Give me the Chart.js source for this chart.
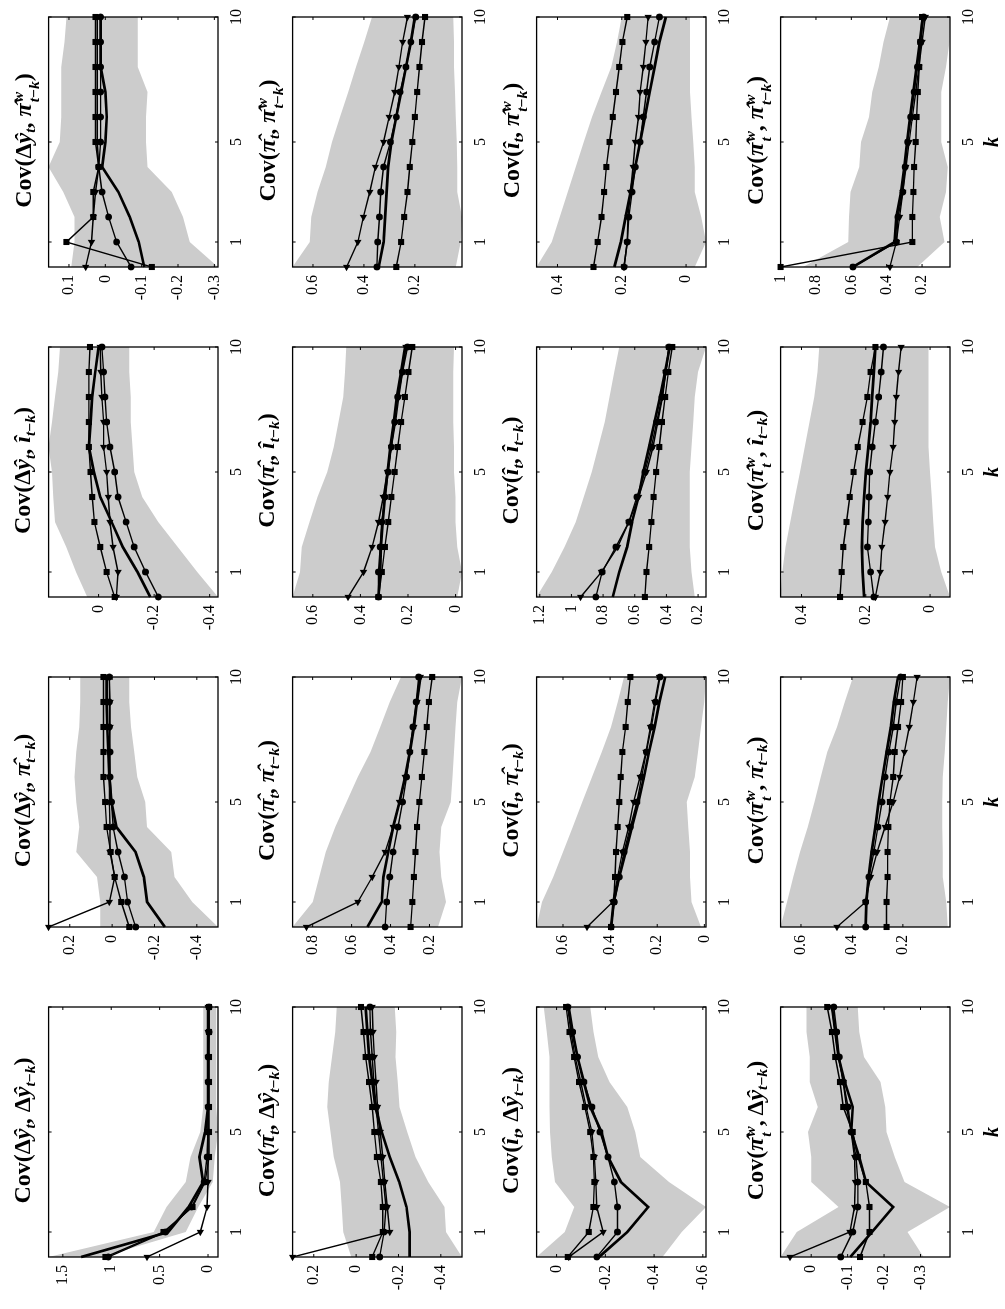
<!DOCTYPE html>
<html>
<head>
<meta charset="utf-8">
<script src="https://cdn.jsdelivr.net/npm/chart.js@4.4.0/dist/chart.umd.min.js"></script>
<style>
  html, body { margin: 0; padding: 0; background: #fff; width: 1005px; height: 1309px; overflow: hidden; }
  #fig {
    position: absolute; left: 0; top: 0; width: 1309px; height: 1005px;
    transform-origin: 0 0; transform: translate(0, 1309px) rotate(-90deg);
    font-family: "Liberation Serif", "DejaVu Serif", serif; color: #000;
  }
  #fig canvas { position: absolute; }
  .ttl { position: absolute; width: 253px; text-align: center; font-size: 24px; font-weight: bold; white-space: nowrap; line-height: 1; z-index: 2; }
  .ttl sub { font-size: 0.65em; vertical-align: -0.3em; line-height: 0; }
  .ss { display: inline-block; vertical-align: -0.55em; font-size: 0.65em; line-height: 1.05; text-align: left; margin-left: 1px; }
  .ss > span { display: block; }
</style>
</head>
<body>
<div id="fig"></div>
<script>
// lags k = 0..10 (horizontal axis of every panel)
const K = [0, 1, 2, 3, 4, 5, 6, 7, 8, 9, 10];
const K_TICKS = [1, 5, 10];

// Cov(dy_t, dy_t-k)
const yy_ticks = [0, 0.5, 1, 1.5];
const yy_hi = [1.647, 0.56, 0.43, 0.23, 0.18, 0.08, 0.05, 0.05, 0.05, 0.05, 0.05];
const yy_lo = [1.1, 0.23, 0.1, -0.05, -0.07, -0.103, -0.085, -0.085, -0.085, -0.085, -0.085];
const yy_solid = [1.31, 0.41, 0.2, 0.05, 0.09, 0.03, 0.0, 0.0, 0.0, 0.0, 0.0];
const yy_circ = [1.03, 0.44, 0.17, 0.04, 0.01, 0.0, 0.0, 0.0, 0.0, -0.01, -0.01];
const yy_sq = [1.06, 0.46, 0.16, 0.03, -0.01, -0.01, -0.01, -0.01, -0.01, -0.01, -0.01];
const yy_tri = [0.63, 0.08, 0.01, 0.0, 0.0, 0.0, 0.0, 0.0, 0.0, 0.0, 0.0];

// Cov(dy_t, pi_t-k)
const yp_ticks = [-0.4, -0.2, 0, 0.2];
const yp_hi = [0.056, 0.056, 0.071, 0.17, 0.155, 0.17, 0.178, 0.17, 0.155, 0.151, 0.151];
const yp_lo = [-0.5, -0.378, -0.294, -0.279, -0.165, -0.157, -0.119, -0.104, -0.089, -0.081, -0.081];
const yp_solid = [-0.249, -0.165, -0.15, -0.111, -0.02, 0.003, 0.013, 0.018, 0.023, 0.026, 0.026];
const yp_circ = [-0.111, -0.073, -0.058, -0.028, -0.005, 0.003, 0.01, 0.01, 0.013, 0.013, 0.013];
const yp_sq = [-0.081, -0.043, -0.012, 0.007, 0.026, 0.033, 0.041, 0.041, 0.041, 0.041, 0.041];
const yp_tri = [0.3, 0.013, -0.012, 0.01, 0.01, 0.013, 0.013, 0.013, 0.01, 0.01, 0.013];

// Cov(dy_t, i_t-k)
const yi_ticks = [-0.4, -0.2, 0];
const yi_hi = [0.041, 0.081, 0.116, 0.157, 0.163, 0.168, 0.18, 0.168, 0.157, 0.145, 0.139];
const yi_lo = [-0.43, -0.355, -0.285, -0.215, -0.157, -0.128, -0.122, -0.116, -0.116, -0.11, -0.11];
const yi_solid = [-0.186, -0.14, -0.087, -0.047, -0.006, 0.017, 0.035, 0.029, 0.023, 0.012, 0.0];
const yi_circ = [-0.215, -0.169, -0.128, -0.099, -0.07, -0.058, -0.041, -0.029, -0.023, -0.018, -0.012];
const yi_sq = [-0.058, -0.029, -0.006, 0.015, 0.023, 0.029, 0.035, 0.035, 0.035, 0.035, 0.031];
const yi_tri = [-0.064, -0.07, -0.052, -0.041, -0.035, -0.029, -0.018, -0.018, -0.012, -0.008, -0.006];

// Cov(dy_t, piw_t-k)
const yw_ticks = [-0.3, -0.2, -0.1, 0, 0.1];
const yw_hi = [0.094, 0.085, 0.085, 0.116, 0.156, 0.125, 0.121, 0.121, 0.121, 0.112, 0.107];
const yw_lo = [-0.31, -0.232, -0.214, -0.183, -0.116, -0.112, -0.112, -0.116, -0.089, -0.089, -0.089];
const yw_solid = [-0.107, -0.092, -0.067, -0.036, 0.009, 0.0, -0.004, 0.0, 0.013, 0.013, 0.013];
const yw_circ = [-0.071, -0.031, -0.009, 0.009, 0.018, 0.013, 0.013, 0.013, 0.013, 0.013, 0.013];
const yw_sq = [-0.128, 0.107, 0.033, 0.033, 0.018, 0.027, 0.027, 0.027, 0.027, 0.027, 0.027];
const yw_tri = [0.054, 0.038, 0.033, 0.027, 0.018, 0.022, 0.022, 0.022, 0.022, 0.022, 0.022];

// Cov(pi_t, dy_t-k)
const py_ticks = [-0.4, -0.2, 0, 0.2];
const py_hi = [0.023, 0.061, 0.068, 0.076, 0.106, 0.121, 0.136, 0.129, 0.114, 0.098, 0.091];
const py_lo = [-0.5, -0.424, -0.417, -0.341, -0.28, -0.242, -0.205, -0.197, -0.186, -0.189, -0.182];
const py_solid = [-0.253, -0.253, -0.238, -0.204, -0.159, -0.121, -0.091, -0.076, -0.061, -0.053, -0.045];
const py_circ = [-0.111, -0.132, -0.141, -0.129, -0.117, -0.106, -0.095, -0.083, -0.076, -0.068, -0.065];
const py_sq = [-0.076, -0.126, -0.126, -0.117, -0.098, -0.086, -0.076, -0.061, -0.045, -0.035, -0.023];
const py_tri = [0.3, -0.159, -0.147, -0.136, -0.126, -0.114, -0.101, -0.094, -0.086, -0.08, -0.076];

// Cov(pi_t, pi_t-k)
const pp_ticks = [0.2, 0.4, 0.6, 0.8];
const pp_hi = [0.903, 0.799, 0.766, 0.733, 0.684, 0.626, 0.568, 0.503, 0.453, 0.404, 0.346];
const pp_lo = [0.156, 0.115, 0.14, 0.148, 0.14, 0.091, 0.082, 0.074, 0.066, 0.058, 0.033];
const pp_solid = [0.519, 0.445, 0.437, 0.412, 0.387, 0.354, 0.325, 0.301, 0.28, 0.264, 0.247];
const pp_circ = [0.428, 0.42, 0.404, 0.387, 0.362, 0.338, 0.318, 0.301, 0.285, 0.268, 0.255];
const pp_sq = [0.297, 0.288, 0.28, 0.272, 0.264, 0.252, 0.239, 0.226, 0.214, 0.203, 0.186];
const pp_tri = [0.832, 0.568, 0.494, 0.428, 0.387, 0.354, 0.325, 0.301, 0.28, 0.264, 0.247];

// Cov(pi_t, i_t-k)
const pi_ticks = [0, 0.2, 0.4, 0.6];
const pi_hi = [0.685, 0.654, 0.647, 0.614, 0.58, 0.539, 0.512, 0.492, 0.472, 0.465, 0.459];
const pi_lo = [-0.007, -0.027, -0.007, 0.0, 0.0, 0.007, 0.007, 0.01, 0.01, 0.01, 0.007];
const pi_solid = [0.324, 0.317, 0.314, 0.306, 0.297, 0.286, 0.274, 0.26, 0.247, 0.229, 0.212];
const pi_circ = [0.324, 0.324, 0.317, 0.31, 0.297, 0.283, 0.27, 0.256, 0.243, 0.223, 0.202];
const pi_sq = [0.324, 0.31, 0.297, 0.283, 0.27, 0.256, 0.243, 0.229, 0.213, 0.198, 0.182];
const pi_tri = [0.452, 0.387, 0.351, 0.324, 0.304, 0.287, 0.27, 0.252, 0.239, 0.223, 0.209];

// Cov(pi_t, piw_t-k)
const pw_ticks = [0.2, 0.4, 0.6];
const pw_hi = [0.68, 0.613, 0.607, 0.582, 0.55, 0.525, 0.494, 0.462, 0.431, 0.399, 0.368];
const pw_lo = [0.04, 0.02, 0.015, 0.034, 0.034, 0.036, 0.04, 0.042, 0.046, 0.046, 0.049];
const pw_solid = [0.342, 0.323, 0.317, 0.311, 0.305, 0.292, 0.273, 0.254, 0.235, 0.216, 0.2];
const pw_circ = [0.349, 0.346, 0.339, 0.334, 0.323, 0.296, 0.273, 0.258, 0.235, 0.216, 0.197];
const pw_sq = [0.273, 0.254, 0.242, 0.229, 0.22, 0.21, 0.2, 0.191, 0.182, 0.172, 0.16];
const pw_tri = [0.468, 0.424, 0.402, 0.377, 0.355, 0.323, 0.301, 0.279, 0.263, 0.248, 0.229];

// Cov(i_t, dy_t-k)
const iy_ticks = [-0.6, -0.4, -0.2, 0];
const iy_hi = [0.082, -0.033, -0.072, 0.007, 0.02, 0.027, 0.029, 0.029, 0.029, 0.04, 0.053];
const iy_lo = [-0.435, -0.514, -0.613, -0.461, -0.343, -0.323, -0.29, -0.217, -0.171, -0.151, -0.138];
const iy_solid = [-0.174, -0.29, -0.376, -0.264, -0.211, -0.184, -0.138, -0.112, -0.086, -0.066, -0.05];
const iy_circ = [-0.165, -0.25, -0.25, -0.237, -0.211, -0.178, -0.145, -0.112, -0.086, -0.066, -0.046];
const iy_sq = [-0.046, -0.132, -0.151, -0.155, -0.151, -0.138, -0.116, -0.092, -0.072, -0.053, -0.039];
const iy_tri = [-0.05, -0.191, -0.165, -0.161, -0.155, -0.145, -0.121, -0.099, -0.076, -0.059, -0.046];

// Cov(i_t, pi_t-k)
const ip_ticks = [0, 0.2, 0.4, 0.6];
const ip_hi = [0.712, 0.689, 0.641, 0.6, 0.559, 0.518, 0.477, 0.436, 0.396, 0.368, 0.341];
const ip_lo = [0.014, 0.055, 0.061, 0.061, 0.068, 0.075, 0.041, 0.027, 0.014, 0.0, -0.007];
const ip_solid = [0.396, 0.385, 0.361, 0.334, 0.307, 0.28, 0.256, 0.235, 0.211, 0.191, 0.166];
const ip_circ = [0.396, 0.382, 0.361, 0.341, 0.314, 0.286, 0.266, 0.246, 0.225, 0.207, 0.188];
const ip_sq = [0.396, 0.385, 0.379, 0.375, 0.368, 0.361, 0.355, 0.348, 0.334, 0.325, 0.314];
const ip_tri = [0.498, 0.389, 0.368, 0.348, 0.321, 0.3, 0.273, 0.248, 0.229, 0.211, 0.191];

// Cov(i_t, i_t-k)
const ii_ticks = [0.2, 0.4, 0.6, 0.8, 1, 1.2];
const ii_hi = [1.22, 1.125, 1.043, 0.972, 0.922, 0.871, 0.83, 0.79, 0.759, 0.729, 0.698];
const ii_lo = [0.221, 0.242, 0.252, 0.252, 0.252, 0.252, 0.242, 0.231, 0.221, 0.201, 0.15];
const ii_solid = [0.739, 0.698, 0.648, 0.617, 0.576, 0.546, 0.509, 0.475, 0.44, 0.408, 0.379];
const ii_circ = [0.846, 0.806, 0.719, 0.637, 0.587, 0.536, 0.495, 0.461, 0.428, 0.404, 0.384];
const ii_sq = [0.536, 0.526, 0.509, 0.495, 0.481, 0.465, 0.445, 0.428, 0.408, 0.388, 0.363];
const ii_tri = [0.942, 0.81, 0.708, 0.637, 0.576, 0.526, 0.485, 0.455, 0.424, 0.404, 0.384];

// Cov(i_t, piw_t-k)
const iw_ticks = [0, 0.2, 0.4];
const iw_hi = [0.465, 0.418, 0.393, 0.368, 0.343, 0.318, 0.293, 0.263, 0.233, 0.215, 0.2];
const iw_lo = [-0.027, -0.062, -0.047, -0.027, -0.027, -0.022, -0.017, -0.012, -0.012, -0.012, -0.012];
const iw_solid = [0.223, 0.203, 0.188, 0.173, 0.158, 0.143, 0.128, 0.113, 0.098, 0.083, 0.063];
const iw_circ = [0.193, 0.183, 0.178, 0.168, 0.158, 0.143, 0.133, 0.123, 0.113, 0.098, 0.083];
const iw_sq = [0.288, 0.275, 0.263, 0.255, 0.248, 0.238, 0.228, 0.218, 0.208, 0.198, 0.183];
const iw_tri = [0.193, 0.183, 0.181, 0.173, 0.165, 0.158, 0.148, 0.143, 0.133, 0.125, 0.118];

// Cov(piw_t, dy_t-k)
const wy_ticks = [-0.3, -0.2, -0.1, 0];
const wy_hi = [0.084, 0.04, -0.075, 0.0, 0.0, 0.009, -0.018, 0.004, 0.004, 0.013, 0.013];
const wy_lo = [-0.308, -0.264, -0.381, -0.256, -0.229, -0.207, -0.203, -0.19, -0.145, -0.132, -0.128];
const wy_solid = [-0.107, -0.167, -0.225, -0.15, -0.132, -0.11, -0.114, -0.092, -0.075, -0.066, -0.057];
const wy_circ = [-0.081, -0.114, -0.128, -0.128, -0.123, -0.11, -0.101, -0.088, -0.077, -0.07, -0.062];
const wy_sq = [-0.134, -0.16, -0.16, -0.15, -0.128, -0.114, -0.088, -0.079, -0.066, -0.057, -0.044];
const wy_tri = [0.058, -0.106, -0.119, -0.121, -0.119, -0.11, -0.097, -0.088, -0.075, -0.066, -0.057];

// Cov(piw_t, pi_t-k)
const wp_ticks = [0.2, 0.4, 0.6];
const wp_hi = [0.68, 0.655, 0.63, 0.604, 0.573, 0.547, 0.522, 0.497, 0.459, 0.428, 0.396];
const wp_lo = [0.024, 0.03, 0.043, 0.043, 0.045, 0.045, 0.043, 0.036, 0.03, 0.024, 0.015];
const wp_solid = [0.346, 0.343, 0.335, 0.323, 0.308, 0.295, 0.28, 0.264, 0.247, 0.235, 0.219];
const wp_circ = [0.346, 0.346, 0.333, 0.314, 0.298, 0.282, 0.27, 0.255, 0.238, 0.226, 0.209];
const wp_sq = [0.264, 0.264, 0.26, 0.26, 0.257, 0.251, 0.238, 0.232, 0.219, 0.207, 0.2];
const wp_tri = [0.459, 0.346, 0.327, 0.301, 0.27, 0.238, 0.213, 0.194, 0.175, 0.159, 0.144];

// Cov(piw_t, i_t-k)
const wi_ticks = [0, 0.2, 0.4];
const wi_hi = [0.465, 0.46, 0.45, 0.435, 0.42, 0.405, 0.39, 0.375, 0.36, 0.35, 0.345];
const wi_lo = [-0.062, -0.035, -0.015, -0.01, -0.005, 0.0, 0.005, 0.005, 0.005, 0.005, 0.005];
const wi_solid = [0.205, 0.21, 0.212, 0.21, 0.205, 0.2, 0.192, 0.185, 0.18, 0.175, 0.17];
const wi_circ = [0.175, 0.185, 0.195, 0.192, 0.19, 0.188, 0.18, 0.17, 0.16, 0.152, 0.145];
const wi_sq = [0.28, 0.275, 0.27, 0.26, 0.25, 0.238, 0.225, 0.21, 0.195, 0.185, 0.17];
const wi_tri = [0.17, 0.155, 0.15, 0.14, 0.132, 0.125, 0.115, 0.11, 0.105, 0.098, 0.09];

// Cov(piw_t, piw_t-k)
const ww_ticks = [0.2, 0.4, 0.6, 0.8, 1];
const ww_hi = [0.873, 0.618, 0.613, 0.605, 0.555, 0.545, 0.5, 0.482, 0.445, 0.418, 0.382];
const ww_lo = [0.227, 0.073, 0.1, 0.064, 0.055, 0.091, 0.091, 0.091, 0.064, 0.045, 0.042];
const ww_solid = [0.591, 0.355, 0.345, 0.318, 0.3, 0.285, 0.267, 0.249, 0.231, 0.213, 0.195];
const ww_circ = [0.591, 0.345, 0.336, 0.309, 0.296, 0.282, 0.264, 0.245, 0.227, 0.209, 0.191];
const ww_sq = [1.0, 0.255, 0.255, 0.249, 0.245, 0.236, 0.231, 0.224, 0.216, 0.209, 0.2];
const ww_tri = [0.382, 0.345, 0.327, 0.309, 0.291, 0.273, 0.255, 0.236, 0.218, 0.2, 0.182];

// panel table (row variable = first argument, column variable = lagged one)
const PANELS = {
  yy: [yy_ticks, yy_hi, yy_lo, yy_solid, yy_circ, yy_sq, yy_tri],
  yp: [yp_ticks, yp_hi, yp_lo, yp_solid, yp_circ, yp_sq, yp_tri],
  yi: [yi_ticks, yi_hi, yi_lo, yi_solid, yi_circ, yi_sq, yi_tri],
  yw: [yw_ticks, yw_hi, yw_lo, yw_solid, yw_circ, yw_sq, yw_tri],
  py: [py_ticks, py_hi, py_lo, py_solid, py_circ, py_sq, py_tri],
  pp: [pp_ticks, pp_hi, pp_lo, pp_solid, pp_circ, pp_sq, pp_tri],
  pi: [pi_ticks, pi_hi, pi_lo, pi_solid, pi_circ, pi_sq, pi_tri],
  pw: [pw_ticks, pw_hi, pw_lo, pw_solid, pw_circ, pw_sq, pw_tri],
  iy: [iy_ticks, iy_hi, iy_lo, iy_solid, iy_circ, iy_sq, iy_tri],
  ip: [ip_ticks, ip_hi, ip_lo, ip_solid, ip_circ, ip_sq, ip_tri],
  ii: [ii_ticks, ii_hi, ii_lo, ii_solid, ii_circ, ii_sq, ii_tri],
  iw: [iw_ticks, iw_hi, iw_lo, iw_solid, iw_circ, iw_sq, iw_tri],
  wy: [wy_ticks, wy_hi, wy_lo, wy_solid, wy_circ, wy_sq, wy_tri],
  wp: [wp_ticks, wp_hi, wp_lo, wp_solid, wp_circ, wp_sq, wp_tri],
  wi: [wi_ticks, wi_hi, wi_lo, wi_solid, wi_circ, wi_sq, wi_tri],
  ww: [ww_ticks, ww_hi, ww_lo, ww_solid, ww_circ, ww_sq, ww_tri]
};
const VARS = ['y', 'p', 'i', 'w'];

const FONT = '"Liberation Serif", "DejaVu Serif", serif';
// plot area geometry in the unrotated figure
const PL = 52, PT = 43, PW = 253, PH = 175, DX = 330, DY = 244;
const PAD_L = 50, PAD_T = 12, PAD_R = 14, XH = 55;

const SYM = { y: 'Δ<i>ŷ</i>', p: '<i>π̂</i>', i: '<i>î</i>', w: '<i>π̂</i>' };
function withSub(v, s) {
  if (v === 'w') return SYM.w + '<span class="ss"><span><i>w</i></span><span>' + s + '</span></span>';
  return SYM[v] + '<sub>' + s + '</sub>';
}
function titleHtml(a, b) {
  return 'Cov(' + withSub(a, '<i>t</i>') + ', ' + withSub(b, '<i>t</i>−<i>k</i>') + ')';
}

// box with inward tick marks on all four sides
const boxPlugin = {
  id: 'box',
  afterDraw(chart) {
    const { ctx, chartArea: a, scales: { x, y } } = chart;
    const t = 3;
    ctx.save();
    ctx.strokeStyle = '#000';
    ctx.lineWidth = 1.3;
    ctx.strokeRect(a.left, a.top, a.right - a.left, a.bottom - a.top);
    ctx.lineWidth = 1;
    ctx.beginPath();
    x.ticks.forEach(tk => {
      const px = x.getPixelForValue(tk.value);
      ctx.moveTo(px, a.bottom); ctx.lineTo(px, a.bottom - t);
      ctx.moveTo(px, a.top); ctx.lineTo(px, a.top + t);
    });
    y.ticks.forEach(tk => {
      const py = y.getPixelForValue(tk.value);
      ctx.moveTo(a.left, py); ctx.lineTo(a.left + t, py);
      ctx.moveTo(a.right, py); ctx.lineTo(a.right - t, py);
    });
    ctx.stroke();
    ctx.restore();
  }
};

function makeChart(canvas, p, showK) {
  const [ticks, hi, lo, solid, circ, sq, tri] = p;
  const all = [].concat(hi, lo, solid, circ, sq, tri);
  const vmin = Math.min(...all), vmax = Math.max(...all);
  const pts = arr => arr.map((v, j) => ({ x: K[j], y: v }));
  const base = {
    borderColor: '#000', backgroundColor: '#000', pointBackgroundColor: '#000',
    pointBorderColor: '#000', pointBorderWidth: 0, fill: false, clip: false, order: 1, tension: 0
  };

  new Chart(canvas, {
    type: 'line',
    data: {
      datasets: [
        { ...base, data: pts(solid), borderWidth: 2.7, pointRadius: 0 },
        { ...base, data: pts(circ), borderWidth: 1.4, pointStyle: 'circle', pointRadius: 3.4 },
        { ...base, data: pts(sq), borderWidth: 1.4, pointStyle: 'rect', pointRadius: 4.3 },
        { ...base, data: pts(tri), borderWidth: 1.4, pointStyle: 'triangle', pointRadius: 4.2, pointRotation: -90 },
        { data: pts(lo), borderColor: 'rgba(0,0,0,0)', borderWidth: 1, pointRadius: 0, fill: false, order: 5 },
        { data: pts(hi), borderColor: 'rgba(0,0,0,0)', borderWidth: 1, pointRadius: 0, fill: '-1', backgroundColor: '#cccccc', order: 5 }
      ]
    },
    options: {
      responsive: false,
      animation: false,
      devicePixelRatio: 1,
      events: [],
      layout: { padding: { left: 0, top: PAD_T, right: PAD_R, bottom: 0 } },
      plugins: { legend: { display: false }, tooltip: { enabled: false } },
      scales: {
        x: {
          type: 'linear', min: 0, max: 10,
          afterBuildTicks: s => { s.ticks = K_TICKS.map(v => ({ value: v })); },
          afterFit: s => { s.height = XH; },
          grid: { display: false, drawTicks: false },
          border: { display: false },
          ticks: { color: '#000', font: { family: FONT, size: 16 }, padding: 9, maxRotation: 0, autoSkip: false },
          title: {
            display: showK, text: 'k', color: '#000', padding: { top: 0, bottom: 0 },
            font: { family: FONT, size: 20, style: 'italic', weight: 'bold' }
          }
        },
        y: {
          type: 'linear', min: vmin, max: vmax,
          afterBuildTicks: s => {
            s.ticks = ticks.filter(v => v >= vmin - 1e-9 && v <= vmax + 1e-9).map(v => ({ value: v }));
          },
          afterFit: s => { s.width = PAD_L; },
          grid: { display: false, drawTicks: false },
          border: { display: false },
          ticks: {
            color: '#000', font: { family: FONT, size: 16 }, padding: 8, autoSkip: false,
            callback: v => String(Math.round(v * 100) / 100)
          }
        }
      }
    },
    plugins: [boxPlugin]
  });
}

const fig = document.getElementById('fig');
VARS.forEach((a, r) => {
  VARS.forEach((b, c) => {
    const px = PL + DX * c, py = PT + DY * r;
    const cv = document.createElement('canvas');
    cv.width = PAD_L + PW + PAD_R;
    cv.height = PAD_T + PH + XH;
    cv.style.left = (px - PAD_L) + 'px';
    cv.style.top = (py - PAD_T) + 'px';
    fig.appendChild(cv);

    const t = document.createElement('div');
    t.className = 'ttl';
    t.innerHTML = titleHtml(a, b);
    t.style.left = px + 'px';
    t.style.top = (py - 33) + 'px';
    fig.appendChild(t);

    makeChart(cv, PANELS[a + b], r === 3);
  });
});
</script>
</body>
</html>
